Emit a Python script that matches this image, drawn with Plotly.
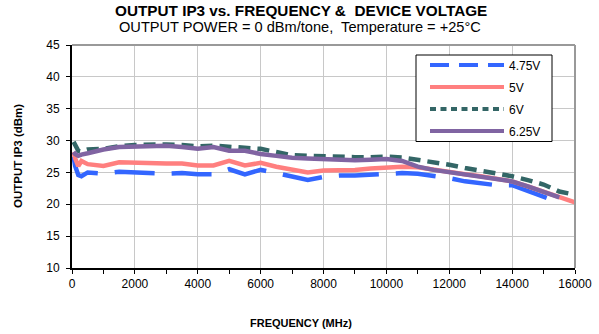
import plotly.graph_objects as go

# Frequency points (MHz)
freq = [50, 100, 200, 300, 500, 1000, 1500, 2000, 2500, 3000, 3500, 4000, 4500,
        5000, 5500, 6000, 6500, 7000, 7500, 8000, 8500, 9000, 9500, 10000, 10500,
        11000, 11500, 12000, 12500, 13000, 13500, 14000, 14500, 15000, 15500, 16000]

# Output IP3 (dBm) per device voltage
ip3_475 = [27.5, 26.0, 24.6, 24.4, 25.0, 24.8, 25.1, 25.0, 24.9, 24.8, 24.9, 24.7, 24.7,
           25.5, 24.7, 25.4, 24.9, 24.4, 23.8, 24.3, 24.5, 24.5, 24.6, 24.7, 24.9,
           24.8, 24.5, 24.1, 23.6, 23.3, 23.0, 23.0, 22.1, 21.2, 20.3, None]
ip3_500 = [28.2, 27.2, 26.0, 26.8, 26.3, 26.0, 26.6, 26.5, 26.4, 26.4, 26.4, 26.1, 26.1,
           26.8, 26.1, 26.5, 25.9, 25.5, 25.0, 25.3, 25.3, 25.4, 25.6, 25.8, 25.9,
           25.8, 25.4, 25.0, 24.7, 24.4, 24.0, 23.6, 22.8, 22.0, 21.2, 20.3]
ip3_600 = [29.8, 29.3, 28.4, 28.3, 28.6, 28.7, 29.1, 29.3, 29.4, 29.4, 29.3, 29.1, 29.2,
           29.0, 28.8, 28.7, 28.2, 27.7, 27.6, 27.5, 27.4, 27.4, 27.4, 27.5, 27.35,
           27.0, 26.5, 26.2, 25.7, 25.3, 24.8, 24.4, 23.8, 23.1, 22.0, 21.5]
ip3_625 = [28.2, 27.9, 27.6, 27.8, 28.0, 28.6, 29.0, 29.1, 29.2, 29.2, 29.0, 28.7, 29.0,
           28.4, 28.4, 27.9, 27.6, 27.3, 27.2, 27.1, 27.0, 26.9, 27.0, 27.1, 26.8,
           25.9, 25.4, 25.05, 24.7, 24.4, 24.0, 23.6, 22.8, 22.0, 21.1, None]

series = [
    ("4.75V", ip3_475, "#3366ff", "40px,17px", "19px,10px"),
    ("5V", ip3_500, "#ff7f7f", "solid", "solid"),
    ("6V", ip3_600, "#336666", "12px,7px", "6px,4.5px"),
    ("6.25V", ip3_625, "#8064a2", "solid", "solid"),
]

FONT = "Liberation Sans, Arial, sans-serif"
W, H = 599, 334
ML, MR, MT, MB = 72, 24, 45, 66
plot_w = W - ML - MR
plot_h = H - MT - MB


def px(pixel_x):
    return (pixel_x - ML) / plot_w


def py(pixel_y):
    return 1 - (pixel_y - MT) / plot_h


fig = go.Figure()
for name, vals, color, dash, legend_dash in series:
    fig.add_trace(go.Scatter(
        x=freq, y=vals, mode="lines", name=name, showlegend=False,
        line=dict(color=color, width=4.5, dash=dash),
        connectgaps=False,
    ))
    # legend sample with a shorter dash pattern
    fig.add_trace(go.Scatter(
        x=[None], y=[None], mode="lines", name=name, showlegend=True,
        legendgroup=name,
        line=dict(color=color, width=4, dash=legend_dash),
    ))

fig.update_layout(
    width=W, height=H,
    margin=dict(l=ML, r=MR, t=MT, b=MB, autoexpand=False),
    paper_bgcolor="white", plot_bgcolor="white",
    font=dict(family=FONT, size=12, color="black"),
    showlegend=True,
    legend=dict(
        x=px(416), y=py(50.5), xanchor="left", yanchor="top",
        bgcolor="rgba(0,0,0,0)", borderwidth=0,
        font=dict(family=FONT, size=12, color="black"),
        itemwidth=74, tracegroupgap=3, indentation=9,
    ),
)

fig.add_annotation(text="<b>OUTPUT IP3 vs. FREQUENCY &  DEVICE VOLTAGE</b>",
                   x=px(301), y=py(10.5), xref="paper", yref="paper",
                   xanchor="center", yanchor="middle",
                   showarrow=False, font=dict(family=FONT, size=15.3))
fig.add_annotation(text="OUTPUT POWER = 0 dBm/tone,  Temperature = +25°C",
                   x=px(300), y=py(27.5), xref="paper", yref="paper",
                   xanchor="center", yanchor="middle",
                   showarrow=False, font=dict(family=FONT, size=14.6))
fig.add_annotation(text="<b>FREQUENCY (MHz)</b>",
                   x=px(301), y=py(323), xref="paper", yref="paper",
                   xanchor="center", yanchor="middle",
                   showarrow=False, font=dict(family=FONT, size=11))
fig.add_annotation(text="<b>OUTPUT IP3 (dBm)</b>", textangle=-90,
                   x=px(18), y=py(156), xref="paper", yref="paper",
                   xanchor="center", yanchor="middle",
                   showarrow=False, font=dict(family=FONT, size=11.5))

fig.update_xaxes(
    range=[0, 16000], dtick=2000, tick0=0, tickformat="d", automargin=False,
    showgrid=True, gridcolor="#c8c8c8", gridwidth=1,
    showline=True, linecolor="black", linewidth=2,
    ticks="outside", ticklen=4, tickcolor="black",
    minor=dict(dtick=1000, ticks="outside", ticklen=4, tickcolor="black", showgrid=False),
    tickfont=dict(family=FONT, size=12), zeroline=False,
)
fig.update_yaxes(
    range=[10, 45], dtick=5, tick0=10, automargin=False,
    showgrid=True, gridcolor="#c8c8c8", gridwidth=1,
    showline=True, linecolor="black", linewidth=2,
    ticks="outside", ticklen=4, tickcolor="black", ticklabelstandoff=4,
    tickfont=dict(family=FONT, size=12), zeroline=False,
)

# Gray frame on the top and right edges of the plot area
fig.add_shape(type="line", xref="paper", yref="paper", x0=0, x1=1, y0=1, y1=1,
              line=dict(color="#999999", width=2))
fig.add_shape(type="line", xref="paper", yref="paper", x0=1, x1=1, y0=0, y1=1,
              line=dict(color="#999999", width=2))
# Legend box
fig.add_shape(type="rect", xref="paper", yref="paper",
              x0=px(416), x1=px(552), y0=py(141.5), y1=py(55),
              line=dict(color="black", width=1), fillcolor="white", layer="above")

fig.write_html("out.html")
